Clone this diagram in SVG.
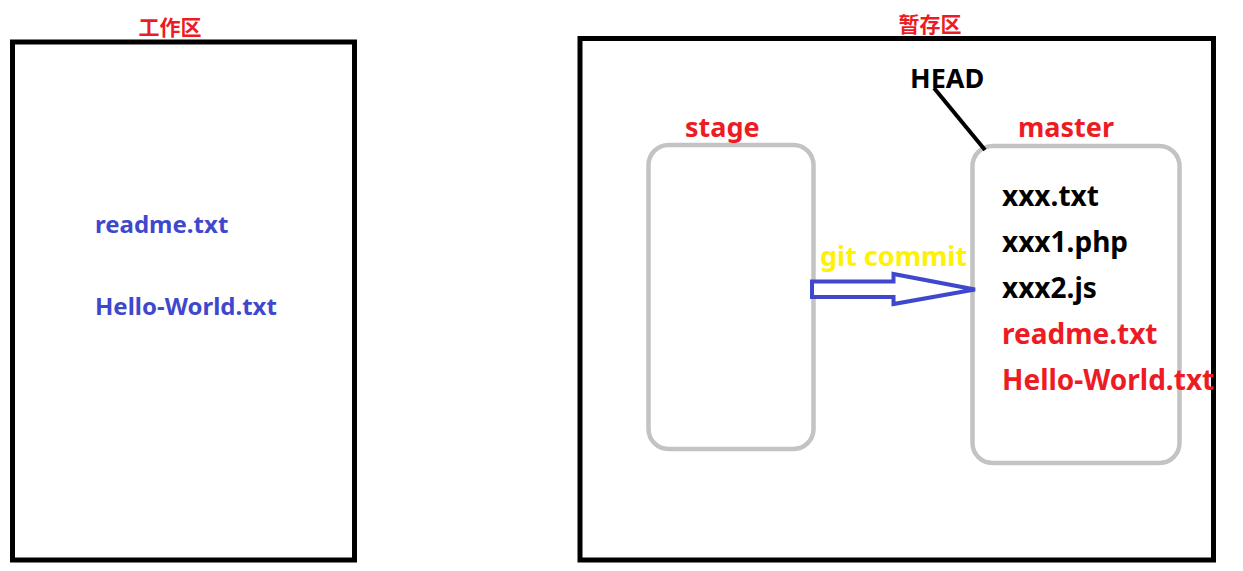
<svg xmlns="http://www.w3.org/2000/svg" width="1243" height="571" viewBox="0 0 1243 571">
<style>
text{font-family:"Noto Sans","Noto Sans CJK SC",sans-serif;font-weight:bold}
.area{fill:none;stroke:#000;stroke-width:5}
.box{fill:none;stroke:#c3c3c3;stroke-width:4.5}
.red{fill:#ed1c24}
.blue{fill:#3f48cc}
.blk{fill:#000}
.cjk{font-family:"Noto Sans CJK SC",sans-serif;font-size:21px}
.lbl{font-size:27px}
.file{font-size:28px}
.lf{font-size:24px}
</style>
<rect width="1243" height="571" fill="#fff"/>
<g id="workspace">
<rect class="area" x="12.5" y="42" width="342" height="518"/>
<text class="cjk red" x="170" y="35" text-anchor="middle">工作区</text>
<text class="lf blue" x="95" y="233">readme.txt</text>
<text class="lf blue" x="95" y="315">Hello-World.txt</text>
</g>
<g id="staging">
<rect class="area" x="580" y="38.5" width="633.5" height="521.5"/>
<text class="cjk red" x="930" y="32" text-anchor="middle">暂存区</text>
</g>
<g id="head">
<text class="lbl blk" x="910" y="88">HEAD</text>
</g>
<g id="stage">
<rect class="box" x="648.5" y="145" width="165" height="304" rx="20"/>
<text class="lbl red" x="685" y="137">stage</text>
</g>
<g id="master">
<rect class="box" x="972.5" y="146" width="207" height="317" rx="20"/>
<text class="lbl red" x="1018" y="137">master</text>
<text class="file blk" x="1002" y="206">xxx.txt</text>
<text class="file blk" x="1002" y="252">xxx1.php</text>
<text class="file blk" x="1002" y="298">xxx2.js</text>
<text class="file red" x="1002" y="344">readme.txt</text>
<text class="file red" x="1002" y="390">Hello-World.txt</text>
</g>
<g id="connectors">
<line x1="934" y1="88" x2="985" y2="150" stroke="#000" stroke-width="4"/>
<polygon points="812,281.5 893.5,281.5 893.5,274 975,289.5 893.5,304 893.5,297 812,297" fill="#fff" stroke="#3f48cc" stroke-width="4"/>
<text class="lbl" x="820" y="266" fill="#fff200">git commit</text>
</g>
</svg>
